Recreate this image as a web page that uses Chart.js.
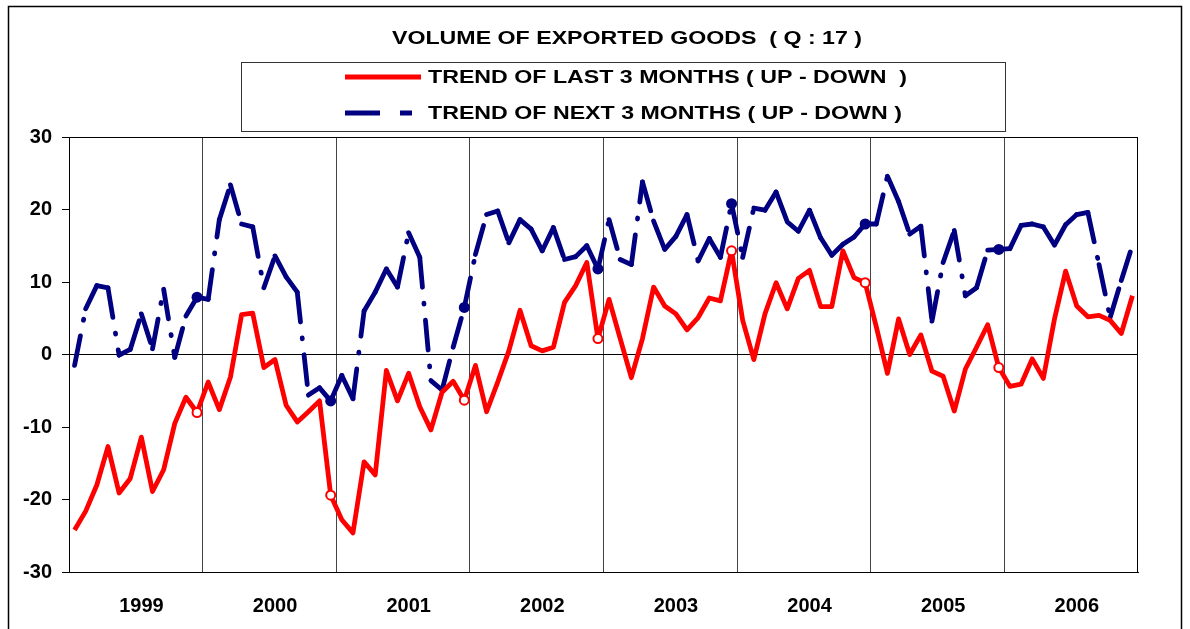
<!DOCTYPE html>
<html>
<head>
<meta charset="utf-8">
<script src="https://cdn.jsdelivr.net/npm/chart.js@4/dist/chart.umd.min.js"></script>
<style>
  html, body { margin: 0; padding: 0; background: #fff; }
  canvas { display: block; }
</style>
</head>
<body>
<canvas id="chart" width="1190" height="629"></canvas>
<script>
const YEARS = ['1999', '2000', '2001', '2002', '2003', '2004', '2005', '2006'];

// trend of last 3 months, monthly, Jan 1999 .. Dec 2006
const LAST_3M = [
  -24.2, -21.6, -18.0, -12.7, -19.1, -17.1, -11.4, -18.9, -15.9, -9.5, -5.9, -8.0,
  -3.8, -7.6, -3.1, 5.5, 5.7, -1.8, -0.7, -7.0, -9.3, -7.9, -6.4, -19.4,
  -22.8, -24.6, -14.8, -16.6, -2.2, -6.4, -2.6, -7.2, -10.4, -5.2, -3.7, -6.3,
  -1.5, -7.9, -3.8, 0.5, 6.1, 1.2, 0.5, 1.0, 7.2, 9.5, 12.7, 2.2,
  7.6, 2.2, -3.2, 2.2, 9.3, 6.7, 5.6, 3.4, 5.1, 7.8, 7.4, 14.3,
  4.7, -0.7, 5.6, 9.9, 6.3, 10.5, 11.6, 6.6, 6.6, 14.3, 10.6, 9.9,
  3.8, -2.6, 4.9, 0.0, 2.7, -2.3, -3.0, -7.8, -2.0, 1.0, 4.1, -1.8,
  -4.4, -4.1, -0.6, -3.3, 4.9, 11.5, 6.7, 5.2, 5.4, 4.7, 2.9, 8.1,
];

// trend of next 3 months
const NEXT_3M = [
  -1.5, 6.3, 9.5, 9.2, -0.1, 0.7, 5.6, 0.8, 9.0, -0.4, 5.3, 7.9,
  7.6, 18.6, 23.4, 18.0, 17.6, 9.2, 13.6, 10.7, 8.6, -5.6, -4.6, -6.4,
  -2.9, -6.1, 6.0, 8.6, 11.8, 9.3, 16.8, 13.4, -3.6, -4.9, 1.0, 6.5,
  13.8, 19.3, 19.8, 15.4, 18.6, 17.3, 14.3, 17.5, 13.1, 13.5, 15.0, 11.8,
  18.6, 13.1, 12.4, 23.8, 18.4, 14.5, 16.3, 19.3, 12.9, 16.0, 13.4, 20.8,
  13.4, 20.2, 19.9, 22.4, 18.3, 17.0, 19.9, 16.1, 13.7, 15.2, 16.2, 18.0,
  18.0, 24.6, 21.1, 16.6, 17.7, 4.6, 12.7, 17.1, 8.1, 9.2, 14.4, 14.5,
  14.6, 17.8, 18.0, 17.6, 15.1, 17.9, 19.3, 19.6, 12.4, 5.1, 10.2, 15.1,
];

const Y_MIN = -30;
const Y_MAX = 30;
const Y_STEP = 10;

const TITLE = 'VOLUME OF EXPORTED GOODS  ( Q : 17 )';
const LABEL_LAST = 'TREND OF LAST 3 MONTHS ( UP - DOWN  )';
const LABEL_NEXT = 'TREND OF NEXT 3 MONTHS ( UP - DOWN )';

const RED = '#ff0000';
const NAVY = '#000080';
const FONT = 'Arial, "Liberation Sans", sans-serif';
const STRETCH = 1.22; // the source text is drawn wide

const months = [];
YEARS.forEach((y) => {
  for (let m = 1; m <= 12; m += 1) months.push(`${y}-${String(m).padStart(2, '0')}`);
});

// year-end markers (December), not on the last point
const isMarked = (ctx) => ctx.dataIndex % 12 === 11 && ctx.dataIndex < months.length - 1;

function wideText(ctx, text, x, y, align) {
  ctx.save();
  ctx.translate(x, y);
  ctx.scale(STRETCH, 1);
  ctx.textAlign = align;
  ctx.fillText(text, 0, 0);
  ctx.restore();
}

// title, legend box and outer frame, Excel style
const frame = {
  id: 'frame',
  beforeDraw(chart) {
    const { ctx } = chart;
    ctx.save();
    ctx.fillStyle = '#fff';
    ctx.fillRect(0, 0, chart.width, chart.height);
    ctx.restore();
  },
  afterDraw(chart) {
    const { ctx } = chart;
    ctx.save();
    ctx.strokeStyle = '#000';
    ctx.lineWidth = 1.5;
    ctx.strokeRect(8.5, 6.5, 1173, 700);

    ctx.fillStyle = '#000';
    ctx.font = `bold 19px ${FONT}`;
    ctx.textBaseline = 'middle';
    wideText(ctx, TITLE, 627, 39, 'center');

    ctx.strokeStyle = '#333';
    ctx.lineWidth = 1;
    ctx.strokeRect(241.5, 62.5, 764, 69);

    ctx.lineWidth = 5;
    ctx.strokeStyle = RED;
    ctx.beginPath();
    ctx.moveTo(345, 77);
    ctx.lineTo(421, 77);
    ctx.stroke();

    ctx.strokeStyle = NAVY;
    ctx.beginPath();
    ctx.moveTo(345, 113);
    ctx.lineTo(380, 113);
    ctx.moveTo(400, 113);
    ctx.lineTo(412, 113);
    ctx.stroke();

    wideText(ctx, LABEL_LAST, 428, 78, 'left');
    wideText(ctx, LABEL_NEXT, 428, 114, 'left');
    ctx.restore();
  },
};

new Chart(document.getElementById('chart'), {
  type: 'line',
  data: {
    labels: months,
    datasets: [
      {
        label: LABEL_LAST,
        data: LAST_3M,
        borderColor: RED,
        borderWidth: 4.8,
        borderJoinStyle: 'round',
        tension: 0,
        pointRadius: (ctx) => (isMarked(ctx) ? 4.5 : 0),
        pointBackgroundColor: '#fff',
        pointBorderColor: RED,
        pointBorderWidth: 2,
      },
      {
        label: LABEL_NEXT,
        data: NEXT_3M,
        borderColor: NAVY,
        borderWidth: 4.8,
        borderDash: [30, 16, 1, 16],
        borderCapStyle: 'round',
        borderJoinStyle: 'round',
        tension: 0,
        // restart the dash pattern on every segment, like Excel does
        segment: {
          borderDashOffset: (ctx) => (ctx.p0DataIndex % 2 ? 0.001 : 0),
        },
        pointRadius: (ctx) => (isMarked(ctx) ? 5.5 : 0),
        pointBackgroundColor: NAVY,
        pointBorderColor: NAVY,
        pointBorderWidth: 0,
      },
    ],
  },
  options: {
    responsive: false,
    animation: false,
    events: [],
    layout: { padding: { left: 0, top: 137, right: 52, bottom: 0 } },
    plugins: {
      legend: { display: false },
      title: { display: false },
      tooltip: { enabled: false },
    },
    scales: {
      x: {
        type: 'category',
        offset: true,
        afterFit: (scale) => { scale.height = 57; },
        grid: {
          offset: true,
          drawTicks: false,
          lineWidth: 1,
          color: (ctx) => {
            if (ctx.tick === undefined) return '#000';
            return ctx.index % 12 === 0 && ctx.index > 0 ? '#444' : 'rgba(0,0,0,0)';
          },
        },
        border: { display: true, color: '#000', width: 1 },
        ticks: {
          autoSkip: false,
          maxRotation: 0,
          padding: 22,
          color: '#000',
          font: { family: FONT, size: 20, weight: 'bold' },
          callback: (value, index) => (index % 12 === 6 ? YEARS[Math.floor(index / 12)] : ''),
        },
      },
      y: {
        min: Y_MIN,
        max: Y_MAX,
        afterFit: (scale) => { scale.width = 69; },
        grid: {
          drawOnChartArea: true,
          drawTicks: true,
          tickLength: 7,
          tickColor: '#000',
          color: (ctx) => ([0, Y_MIN, Y_MAX].includes(ctx.tick.value) ? '#000' : 'rgba(0,0,0,0)'),
        },
        border: { display: true, color: '#000', width: 1 },
        ticks: {
          stepSize: Y_STEP,
          padding: 10,
          color: '#000',
          font: { family: FONT, size: 20, weight: 'bold' },
        },
      },
    },
  },
  plugins: [frame],
});
</script>
</body>
</html>
